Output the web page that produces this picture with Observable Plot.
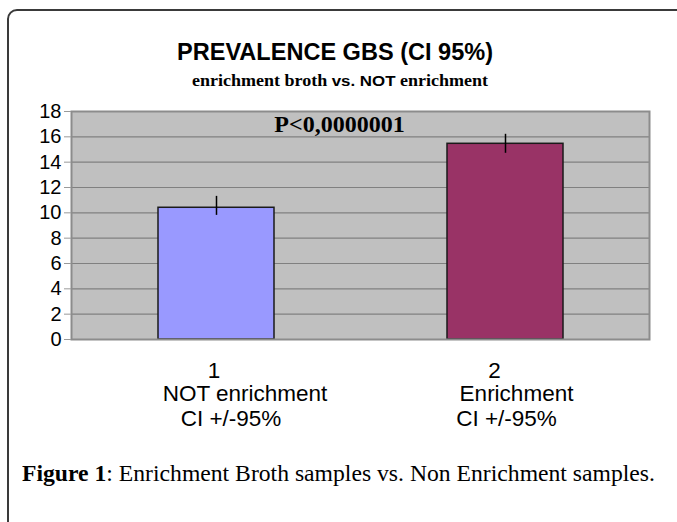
<!DOCTYPE html>
<html>
<head>
<meta charset="utf-8">
<script src="https://cdn.jsdelivr.net/npm/d3@7"></script>
<script src="https://cdn.jsdelivr.net/npm/@observablehq/plot@0.6"></script>
<style>
  html, body { margin: 0; padding: 0; background: #fff; }
  #wrap { position: relative; width: 677px; height: 522px; overflow: hidden; color: #000; }
  #frame { position: absolute; left: 7px; top: 9px; width: 720px; height: 600px;
           border: 2px solid #3a3a3a; border-radius: 10px; box-sizing: border-box; }
  .txt { position: absolute; white-space: nowrap; line-height: 1; transform-origin: 0 0; }
  #title { font-family: "Liberation Sans", Arial, sans-serif; font-weight: bold; font-size: 23.5px; top: 41px; }
  #sub { font-family: "Liberation Serif", "Times New Roman", serif; font-weight: bold; font-size: 16px; top: 72.6px; }
  #sub .ab { font-family: "Liberation Sans", Arial, sans-serif; font-size: 15px; }
  #caption { font-family: "Liberation Serif", "Times New Roman", serif; font-size: 23px; top: 462.4px; left: 21.7px; }
  #caption b { font-weight: bold; }
  #chart { position: absolute; left: 0; top: 95px; }
</style>
</head>
<body>
<div id="wrap">
  <div id="frame"></div>
  <div id="title" class="txt"></div>
  <div id="sub" class="txt"></div>
  <div id="chart"></div>
  <div id="caption" class="txt"></div>
</div>
<script>
// ---- data ----
const categories = ["1", "2"];
const prevalence = [10.4, 15.45];
const ciLow = [9.8, 14.7];
const ciHigh = [11.3, 16.2];
const tickNumbers = ["1", "2"];
const tickNames = ["NOT enrichment", "Enrichment"];
const tickCI = ["CI +/-95%", "CI +/-95%"];
const yTicks = [0, 2, 4, 6, 8, 10, 12, 14, 16, 18];
const barColors = ["#9999ff", "#993366"];
const titleText = "PREVALENCE GBS (CI 95%)";
const subtitleParts = ["enrichment broth ", "vs. NOT", " enrichment"];
const pValueText = "P<0,0000001";
const captionLabel = "Figure 1";
const captionText = ": Enrichment Broth samples vs. Non Enrichment samples.";

const rows = categories.map((c, i) => ({
  cat: c, value: prevalence[i], lo: ciLow[i], hi: ciHigh[i],
  num: tickNumbers[i], name: tickNames[i], ci: tickCI[i]
}));

// ---- layout constants (px) ----
const lineDy = {num: 38, name: 61, ci: 86};
const labelNudge = [{num: -2.5, name: 28.5, ci: 14.5}, {num: -11, name: 11, ci: 1}];

const labelMarks = rows.flatMap((r, i) => ["num", "name", "ci"].map(k =>
  Plot.text([r], {
    x: "cat", text: k, frameAnchor: "bottom", lineAnchor: "bottom",
    dy: lineDy[k], dx: labelNudge[i][k], fontSize: 22.5, fill: "#000"
  })
));

const chart = Plot.plot({
  width: 677,
  height: 345,
  marginTop: 16,
  marginBottom: 101,
  marginLeft: 71,
  marginRight: 28,
  x: {type: "band", domain: categories, paddingInner: 0.6, paddingOuter: 0.3, axis: null},
  y: {domain: [0, 18], label: null},
  color: {domain: categories, range: barColors},
  style: {fontFamily: "'Liberation Sans', Arial, sans-serif", background: "transparent", color: "#000", overflow: "visible"},
  marks: [
    Plot.frame({fill: "#c0c0c0"}),
    Plot.gridY({ticks: yTicks, stroke: "#808080", strokeOpacity: 1, strokeWidth: 1.2}),
    Plot.barY(rows, {x: "cat", y: "value", fill: "cat", stroke: "#1a1a1a", strokeWidth: 1.5}),
    Plot.ruleX(rows, {x: "cat", y1: "lo", y2: "hi", stroke: "#000", strokeWidth: 1.5}),
    Plot.frame({stroke: "#8c8c8c", strokeWidth: 2}),
    Plot.axisY({ticks: yTicks, tickSize: 7, tickPadding: 3, fontSize: 20, stroke: "#9a9a9a", label: null}),
    Plot.text([pValueText], {
      text: d => d, frameAnchor: "top", lineAnchor: "bottom", dx: -21, dy: 20.5,
      fontSize: 24, fontWeight: "bold", fontFamily: "'Liberation Serif', 'Times New Roman', serif", fill: "#000"
    }),
    ...labelMarks
  ]
});
document.getElementById("chart").appendChild(chart);

// ---- titles & caption ----
const titleEl = document.getElementById("title");
titleEl.textContent = titleText;
const subEl = document.getElementById("sub");
subtitleParts.forEach((p, i) => {
  const s = document.createElement("span");
  s.className = i === 1 ? "ab" : "tb";
  s.textContent = p;
  subEl.appendChild(s);
});
const capEl = document.getElementById("caption");
const b = document.createElement("b");
b.textContent = captionLabel;
capEl.appendChild(b);
capEl.appendChild(document.createTextNode(captionText));

function fit(el, target, cx) {
  const w = el.getBoundingClientRect().width;
  el.style.transform = `scaleX(${target / w})`;
  if (cx != null) el.style.left = (cx - target / 2) + "px";
}
fit(titleEl, 316, 335);
fit(subEl, 296, 340);
fit(capEl, 633, null);
</script>
</body>
</html>
